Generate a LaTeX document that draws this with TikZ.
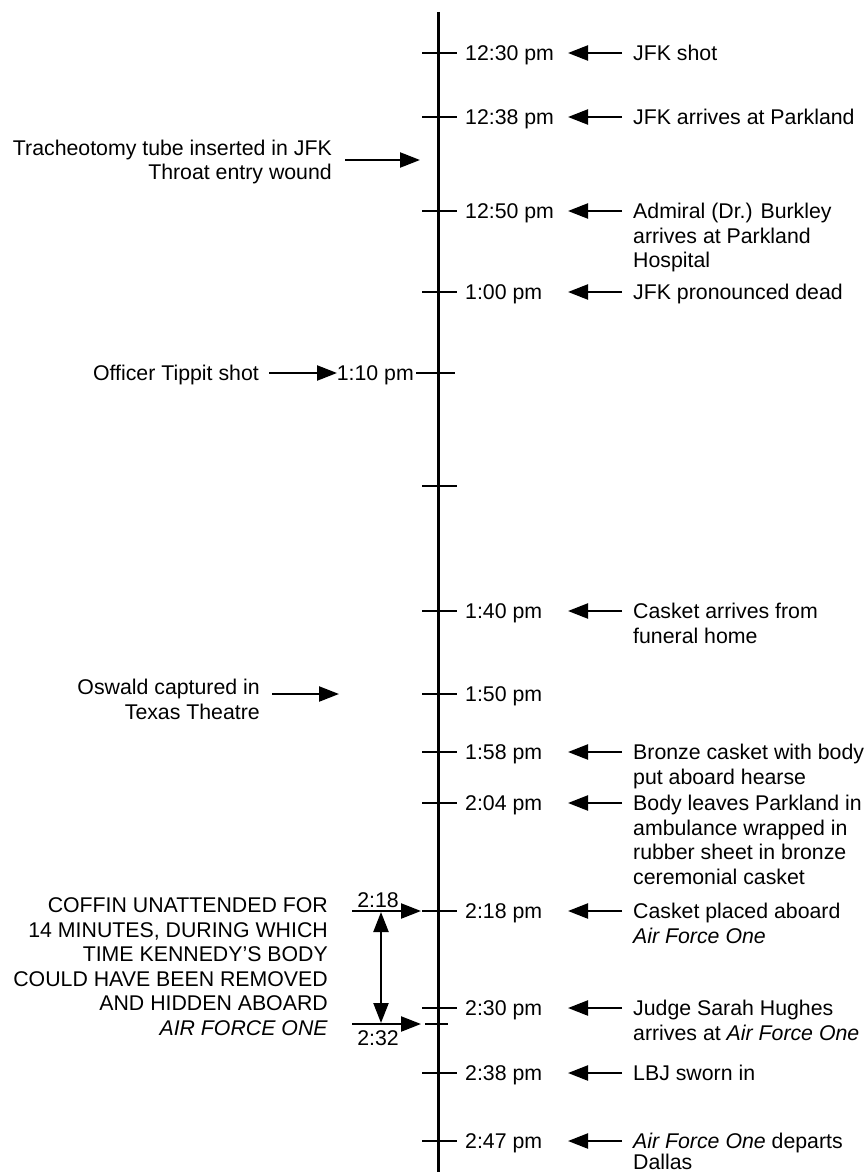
\documentclass[tikz,border=0pt]{standalone}
\usepackage{fontspec}
\setmainfont{Liberation Sans}
\usetikzlibrary{arrows.meta}
\newcommand\tlrow[3]{%
  \coordinate (k#1) at (438,#2);
  \draw[tickmark] (422,#2) -- (457,#2);
  \node[lab,anchor=base west] (t#1) at (465,#2+7.6) {#3};}
\newcommand\evrow[3]{%
  \coordinate (as#1) at (622,#2);
  \coordinate (ae#1) at (568,#2);
  \draw[arr] (as#1) -- (ae#1);
  \node[lab,anchor=base west] (e#1) at (633,#2+7.6) {\begin{tabular}[t]{@{}l@{}}#3\end{tabular}};}
\begin{document}
\begin{tikzpicture}[x=1pt,y=-1pt,
  axis/.style={line width=3pt},
  tickmark/.style={line width=1.7pt},
  lab/.style={inner sep=0pt,font=\fontsize{21.3}{24.5}\selectfont},
  arr/.style={line width=2.3pt,-{Triangle[length=20pt,width=15pt]}},
  darr/.style={line width=2.3pt,{Triangle[length=20pt,width=15pt]}-{Triangle[length=20pt,width=15pt]}}
]
\useasboundingbox[fill=white] (0,0) rectangle (866,1172);
% main time axis
\coordinate (top) at (438,12);
\coordinate (bot) at (438,1172);
\draw[axis] (top) -- (bot);

% right-hand ticks, times and events
\tlrow{1}{53}{12:30 pm}
\evrow{1}{53}{JFK shot}
\tlrow{2}{117}{12:38 pm}
\evrow{2}{117}{JFK arrives at Parkland}
\tlrow{3}{211}{12:50 pm}
\evrow{3}{211}{Admiral (Dr.) Burkley\\arrives at Parkland\\Hospital}
\tlrow{4}{292}{1:00 pm}
\evrow{4}{292}{JFK pronounced dead}
\tlrow{6}{611}{1:40 pm}
\evrow{6}{611}{Casket arrives from\\funeral home}
\tlrow{7}{694}{1:50 pm}
\tlrow{8}{752}{1:58 pm}
\evrow{8}{752}{Bronze casket with body\\put aboard hearse}
\tlrow{9}{803}{2:04 pm}
\evrow{9}{803}{Body leaves Parkland in\\ambulance wrapped in\\rubber sheet in bronze\\ceremonial casket}
\tlrow{10}{911}{2:18 pm}
\evrow{10}{911}{Casket placed aboard\\\textit{Air Force One}}
\tlrow{11}{1008}{2:30 pm}
\evrow{11}{1008}{Judge Sarah Hughes\\arrives at \textit{Air Force One}}
\tlrow{12}{1073}{2:38 pm}
\evrow{12}{1073}{LBJ sworn in}
\tlrow{13}{1141}{2:47 pm}
\evrow{13}{1141}{\textit{Air Force One} departs\\[-3.5pt]Dallas}

% unlabeled tick
\draw[tickmark] (422,486) -- (457,486);

% 1:10 pm (left side)
\draw[tickmark] (416,373) -- (455,373);
\node[lab,anchor=base east] (t5) at (414,380.6) {1:10 pm};
\node[lab,anchor=base east] (tippit) at (259,380.6) {Officer Tippit shot};
\coordinate (tps) at (269,373);
\coordinate (tpe) at (337,373);
\draw[arr] (tps) -- (tpe);

% tracheotomy
\node[lab,anchor=base east] (trach) at (332,155.1) {\begin{tabular}[t]{@{}r@{}}Tracheotomy tube inserted in JFK\\Throat entry wound\end{tabular}};
\coordinate (trs) at (345,160);
\coordinate (tre) at (420,160);
\draw[arr] (trs) -- (tre);

% Oswald
\node[lab,anchor=base east] (oswald) at (260,694.6) {\begin{tabular}[t]{@{}r@{}}Oswald captured in\\Texas Theatre\end{tabular}};
\coordinate (oss) at (272,694);
\coordinate (ose) at (339,694);
\draw[arr] (oss) -- (ose);

% coffin unattended
\node[lab,anchor=base east] (coffin) at (328,912.6) {\begin{tabular}[t]{@{}r@{}}COFFIN UNATTENDED FOR\\14 MINUTES, DURING WHICH\\TIME KENNEDY'S BODY\\COULD HAVE BEEN REMOVED\\AND HIDDEN ABOARD\\\textit{AIR FORCE ONE}\end{tabular}};
\coordinate (c1s) at (352,911);
\coordinate (c1e) at (421,911);
\draw[arr] (c1s) -- (c1e);
\coordinate (c2s) at (352,1024);
\coordinate (c2e) at (421,1024);
\draw[arr] (c2s) -- (c2e);
\draw[tickmark] (425,1024) -- (448,1024);
\coordinate (vt) at (381,912);
\coordinate (vb) at (381,1023);
\draw[darr] (vt) -- (vb);
\node[lab,anchor=base] (l218) at (378,907) {2:18};
\node[lab,anchor=base] (l232) at (378,1045) {2:32};
\end{tikzpicture}
\end{document}
